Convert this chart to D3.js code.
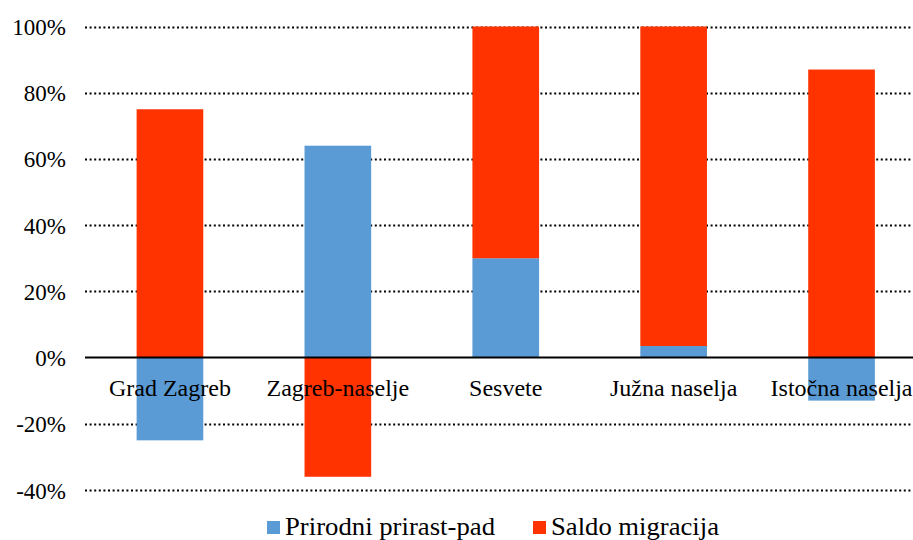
<!DOCTYPE html>
<html>
<head>
<meta charset="utf-8">
<script src="https://cdn.jsdelivr.net/npm/d3@7"></script>
<style>
  html, body { margin: 0; padding: 0; background: #fff; overflow: hidden; }
  svg { display: block; }
  svg text { font-family: "Liberation Serif", "Times New Roman", Times, "Tinos", "DejaVu Serif", serif; fill: #000; }
</style>
</head>
<body>
<svg id="chart" width="913" height="540"></svg>
<script>
const categories = ["Grad Zagreb", "Zagreb-naselje", "Sesvete", "Južna naselja", "Istočna naselja"];
const seriesNames = ["Prirodni prirast-pad", "Saldo migracija"];
const prirodni = [-25, 64, 30, 3.5, -13];
const saldo = [75, -36, 70, 96.5, 87];
const tickValues = [-40, -20, 0, 20, 40, 60, 80, 100];
const colors = ["#5B9BD5", "#FF3300"];

const svg = d3.select("#chart");
const W = 913, H = 540;

const x = d3.scaleBand().domain(categories).range([86, 925.5]).paddingInner(0.603).paddingOuter(0.3015);
const y = d3.scaleLinear().domain([-40, 100]).range([490, 26.5]);

const rows = categories.map((c, i) => ({ cat: c, p: prirodni[i], s: saldo[i] }));
const stack = d3.stack().keys(["p", "s"]).offset(d3.stackOffsetDiverging);
const stacked = stack(rows);

// gridlines
const grid = svg.append("g");
grid.selectAll("line").data(tickValues.filter(v => v !== 0)).join("line")
  .attr("x1", 85).attr("x2", W)
  .attr("y1", d => Math.round(y(d)) + 0.5).attr("y2", d => Math.round(y(d)) + 0.5)
  .attr("stroke", "#000").attr("stroke-width", 2)
  .attr("stroke-dasharray", "2,2.6");

// bars
svg.append("g").selectAll("g").data(stacked).join("g")
  .attr("fill", (d, i) => colors[i])
  .selectAll("rect").data(d => d).join("rect")
  .attr("x", d => x(d.data.cat))
  .attr("width", x.bandwidth())
  .attr("y", d => y(Math.max(d[0], d[1])))
  .attr("height", d => Math.abs(y(d[0]) - y(d[1])));

// zero line
svg.append("line")
  .attr("x1", 85).attr("x2", W)
  .attr("y1", y(0)).attr("y2", y(0))
  .attr("stroke", "#000").attr("stroke-width", 2);

// y tick labels
const yAxis = d3.axisLeft(y).tickValues(tickValues).tickFormat(d => d + "%").tickSize(0).tickPadding(0);
const ya = svg.append("g").attr("transform", "translate(66,0)").call(yAxis)
  .attr("font-family", null).attr("font-size", null);
ya.select(".domain").remove();
ya.selectAll("text").style("font-size", "23px").attr("fill", "#000").attr("dy", "0.35em");

// category labels
const xAxis = d3.axisBottom(x).tickSize(0).tickPadding(0);
const xa = svg.append("g").attr("transform", `translate(0,${y(0)})`).call(xAxis)
  .attr("font-family", null).attr("font-size", null);
xa.select(".domain").remove();
xa.selectAll("text").style("font-size", "24px").attr("fill", "#000")
  .attr("dy", null).attr("y", 38.5);

// legend
const legendItems = [
  { name: seriesNames[0], color: colors[0], x: 267, len: 210 },
  { name: seriesNames[1], color: colors[1], x: 533, len: 168 }
];
const lg = svg.append("g").selectAll("g").data(legendItems).join("g")
  .attr("transform", d => `translate(${d.x},0)`);
lg.append("rect").attr("x", 0).attr("y", 521).attr("width", 13).attr("height", 13).attr("fill", d => d.color);
lg.append("text").attr("x", 18).attr("y", 535).style("font-size", "25.5px")
  .attr("textLength", d => d.len).attr("lengthAdjust", "spacingAndGlyphs")
  .text(d => d.name);
</script>
</body>
</html>
